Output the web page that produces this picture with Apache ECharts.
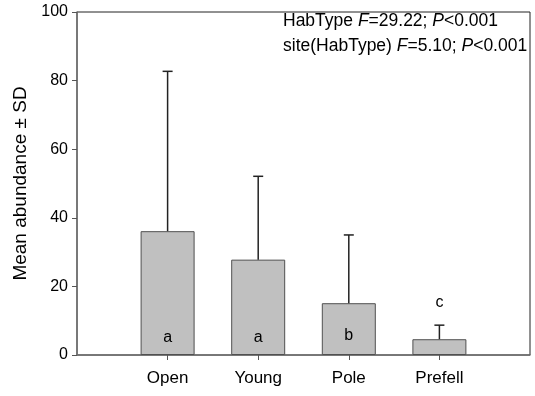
<!DOCTYPE html>
<html>
<head>
<meta charset="utf-8">
<script src="https://cdn.jsdelivr.net/npm/echarts@6/dist/echarts.min.js"></script>
<style>html,body{margin:0;padding:0;background:#fff}#c{width:535px;height:396px}</style>
</head>
<body>
<div id="c"></div>
<script>
const categories = ['Open', 'Young', 'Pole', 'Prefell'];
const means = [36.1, 27.8, 15.1, 4.6];
const sdTop = [82.7, 52.1, 35.0, 8.7];
const letters = ['a', 'a', 'b', 'c'];
const letterY = [5.2, 5.2, 5.8, 15.3];
const yTicks = [0, 20, 40, 60, 80, 100];

const FONT = '"Liberation Sans", Arial, sans-serif';
const chart = echarts.init(document.getElementById('c'));
const xPos = categories.map((_, i) => i + 1);

chart.setOption({
  animation: false,
  grid: { left: 77, right: 5, top: 12, bottom: 41, show: true, borderColor: '#222', borderWidth: 1 },
  xAxis: {
    type: 'value', min: 0, max: categories.length + 1, interval: 1,
    splitLine: { show: false },
    axisLine: { show: true, lineStyle: { color: '#707070', width: 1.5 } },
    axisTick: { show: true, inside: false, length: 5, customValues: xPos, lineStyle: { color: '#555' } },
    axisLabel: { customValues: xPos, margin: 15, fontFamily: FONT, fontSize: 17, color: '#000',
      formatter: v => categories[Math.round(v) - 1] || '' }
  },
  yAxis: {
    type: 'value', min: yTicks[0], max: yTicks[yTicks.length - 1], interval: 20,
    splitLine: { show: false },
    axisLine: { show: true, lineStyle: { color: '#707070', width: 1.5 } },
    axisTick: { show: true, inside: false, length: 5, lineStyle: { color: '#555' } },
    axisLabel: { margin: 9, fontFamily: FONT, fontSize: 16, color: '#000' },
    name: 'Mean abundance ± SD', nameLocation: 'middle', nameGap: 47,
    nameTextStyle: { fontFamily: FONT, fontSize: 19, color: '#000' }
  },
  series: [
    {
      type: 'bar', barWidth: 54,
      data: means.map((m, i) => [i + 1, m]),
      itemStyle: { color: '#c0c0c0', borderColor: '#505050', borderWidth: 1 },
      z: 2
    },
    {
      type: 'custom', z: 3,
      data: means.map((m, i) => [i + 1, m, sdTop[i]]),
      renderItem: (params, api) => {
        const x = api.coord([api.value(0), 0])[0];
        const yb = api.coord([0, api.value(1)])[1];
        const yt = api.coord([0, api.value(2)])[1];
        const style = { stroke: '#222', lineWidth: 1.5 };
        return { type: 'group', children: [
          { type: 'line', shape: { x1: x, y1: yb, x2: x, y2: yt }, style },
          { type: 'line', shape: { x1: x - 5, y1: yt, x2: x + 5, y2: yt }, style }
        ]};
      }
    },
    {
      type: 'custom', z: 4,
      data: letters.map((l, i) => [i + 1, letterY[i]]),
      renderItem: (params, api) => {
        const p = api.coord([api.value(0), api.value(1)]);
        return { type: 'text', x: p[0], y: p[1], style: {
          text: letters[params.dataIndex], fontFamily: FONT, fontSize: 16, fill: '#000',
          align: 'center', verticalAlign: 'middle' } };
      }
    }
  ],
  graphic: [
    {
      type: 'text', left: 283, top: 12,
      style: {
        text: '{n|HabType }{i|F}{n|=29.22; }{i|P}{n|<0.001}\n{n|site(HabType) }{i|F}{n|=5.10; }{i|P}{n|<0.001}',
        rich: {
          n: { fontFamily: FONT, fontSize: 17.5, fill: '#000', lineHeight: 25 },
          i: { fontFamily: FONT, fontSize: 17.5, fontStyle: 'italic', fill: '#000', lineHeight: 25 }
        }
      }
    }
  ]
});
</script>
</body>
</html>
